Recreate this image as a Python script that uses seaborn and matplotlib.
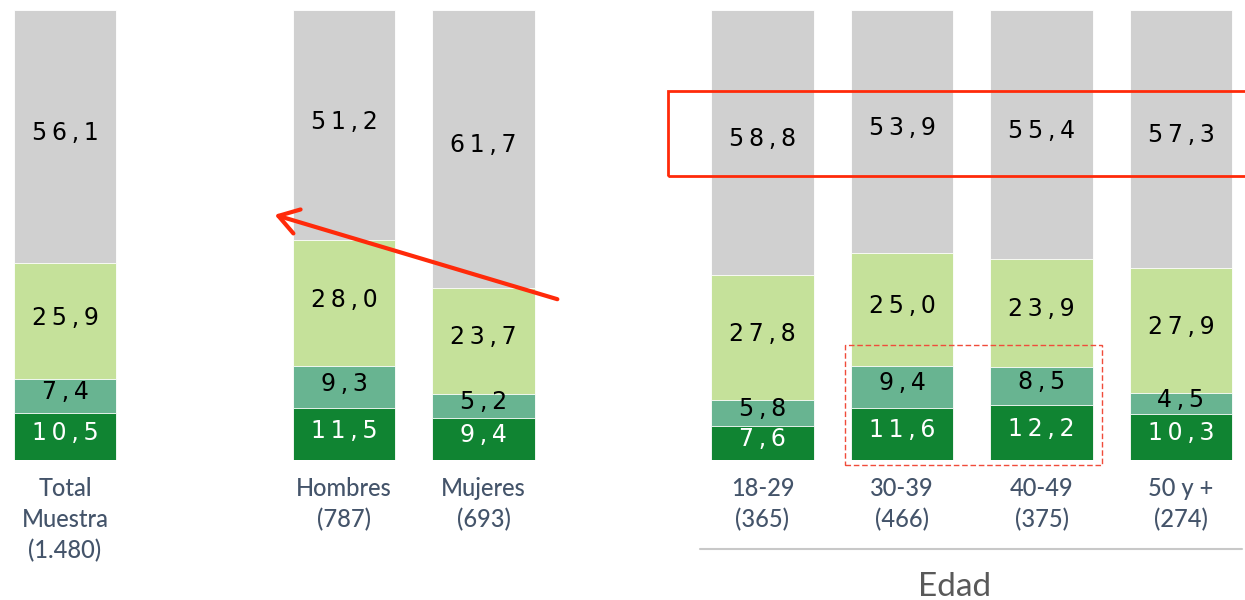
import matplotlib.pyplot as plt
import matplotlib.patches as patches
from matplotlib.lines import Line2D
import pandas as pd
import seaborn as sns

# Data (percentages, bottom to top)
groups = ['Total\nMuestra\n(1.480)', 'Hombres\n(787)', 'Mujeres\n(693)',
          '18-29\n(365)', '30-39\n(466)', '40-49\n(375)', '50 y +\n(274)']
positions = [0, 2, 3, 5, 6, 7, 8]
dark = [10.5, 11.5, 9.4, 7.6, 11.6, 12.2, 10.3]
mid = [7.4, 9.3, 5.2, 5.8, 9.4, 8.5, 4.5]
light = [25.9, 28.0, 23.7, 27.8, 25.0, 23.9, 27.9]
gray = [56.1, 51.2, 61.7, 58.8, 53.9, 55.4, 57.3]

colors = ['#108432', '#68B491', '#C5E19A', '#D0D0D0']
text_colors = ['white', 'black', 'black', 'black']

df = pd.DataFrame({'pos': positions, 'dark': dark, 'mid': mid,
                   'light': light, 'gray': gray})
cols = ['dark', 'mid', 'light', 'gray']
cum = df[cols].cumsum(axis=1)

sns.set_style('white')
fig = plt.figure(figsize=(12.45, 6), dpi=100)
ax = fig.add_axes([0, 140 / 600, 1, 450 / 600])

# stacked bars: draw cumulative totals from the top layer down
for col, color in zip(reversed(cols), reversed(colors)):
    sns.barplot(x=df['pos'], y=cum[col], native_scale=True, width=0.735,
                color=color, errorbar=None, ax=ax, edgecolor='white',
                linewidth=0.6, saturation=1)

# value labels (letter-spaced like the original)
for col, tc in zip(cols, text_colors):
    centers = cum[col] - df[col] / 2
    for x, yc, v in zip(df['pos'], centers, df[col]):
        s = '\u2009'.join(f'{v:.1f}'.replace('.', ','))
        ax.text(x, yc + 0.8, s, ha='center', va='center', fontsize=17,
                color=tc, family='DejaVu Sans')

ax.set_xlim(-65 / 139.5, (1245 - 65) / 139.5)
ax.set_ylim(0, 100)
ax.set_xticks(positions, groups)
ax.set_yticks([])
ax.set_xlabel('')
ax.set_ylabel('')
ax.tick_params(axis='x', length=0, pad=12, labelsize=17, labelcolor='#44546A')
for lbl in ax.get_xticklabels():
    lbl.set_family('Lato')
    lbl.set_weight('medium')
    lbl.set_linespacing(1.42)
sns.despine(ax=ax, left=True, bottom=True)

# age group underline and title
fig.add_artist(Line2D([700 / 1245, 1242 / 1245], [1 - 549 / 600] * 2,
                      color='#C8C8C8', lw=1.5))
fig.text(955 / 1245, 1 - 587 / 600, 'Edad', ha='center', va='center',
         fontsize=24, color='#595959', family='Lato')

# red highlights
fig.add_artist(patches.Rectangle((668 / 1245, 1 - 176 / 600), 0.5, 85 / 600,
                                 transform=fig.transFigure, fill=False,
                                 edgecolor='#FF2A0A', lw=2))
fig.add_artist(patches.Rectangle((845 / 1245, 1 - 465 / 600), 257 / 1245,
                                 120 / 600, transform=fig.transFigure,
                                 fill=False, edgecolor='#F04C3A', lw=1,
                                 linestyle=(0, (4, 2))))
ax.annotate('', xy=(272 / 1245, 1 - 214 / 600),
            xytext=(560 / 1245, 1 - 300 / 600),
            xycoords='figure fraction', textcoords='figure fraction',
            arrowprops=dict(arrowstyle='->,head_length=1.4,head_width=0.9',
                            color='#FF2A0A', lw=3))

fig.savefig('out.png', dpi=100)
